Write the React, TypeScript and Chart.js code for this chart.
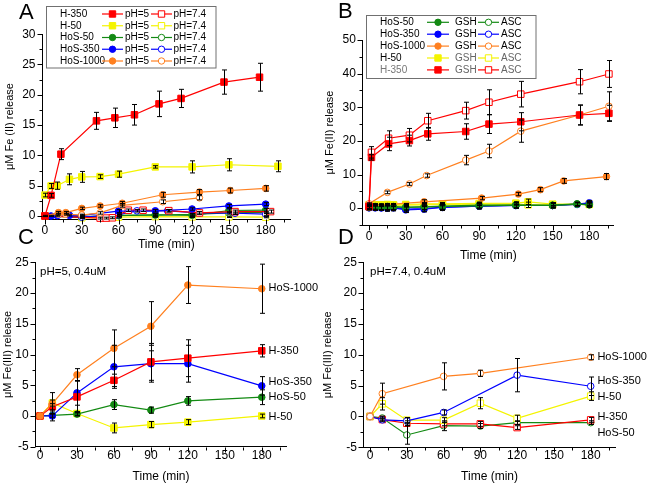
import React, { useEffect, useRef } from 'react';
import { Chart, registerables } from 'chart.js';

Chart.register(...registerables);

const FONT = 'Arial, "Liberation Sans", Helvetica, sans-serif';
Chart.defaults.font.family = FONT;
Chart.defaults.color = '#000';

const RED = '#ff0000';
const YELLOW = '#f4f400';
const GREEN = '#138a13';
const BLUE = '#0000ff';
const ORANGE = '#ff8020';

// ---------------- Panel A ----------------
const aTimeH350 = [0, 5, 13, 42, 57, 73, 93, 111, 146, 175];
const aH350pH5 = [0, 3.4, 10.2, 15.7, 16.2, 16.7, 18.5, 19.4, 22.1, 22.9];
const aH350pH5Err = [0, 0.3, 0.9, 1.4, 1.6, 1.7, 2.1, 1.5, 2.0, 2.3];
const aTimeH350b = [0, 45, 50, 55, 68, 80, 101, 126, 155, 184];
const aH350pH74 = [0, -0.35, -0.35, -0.3, 0.95, 0.95, 0.88, 0.5, 0.72, 0.72];
const aH350pH74Err = [0, 0.15, 0.15, 0.15, 0.2, 0.2, 0.2, 0.2, 0.25, 0.25];

const aTimeH50 = [0, 5, 10, 20, 30, 45, 60, 90, 120, 150, 190];
const aH50pH5 = [3.45, 4.95, 5.0, 6.05, 6.45, 6.5, 6.9, 8.1, 8.1, 8.45, 8.2];
const aH50pH5Err = [0.3, 0.4, 0.6, 0.9, 0.9, 0.3, 0.5, 0.2, 1.0, 1.0, 0.9];
const aTimeH50b = [0, 30, 60, 90, 120, 150, 180];
const aH50pH74 = [0, -0.3, -0.2, -0.1, -0.15, -0.15, -0.2];
const aH50pH74Err = [0, 0.1, 0.1, 0.1, 0.1, 0.1, 0.1];

const aTimeHoS1000 = [0, 11, 17, 30, 45, 63, 96, 126, 151, 180];
const aHoS1000pH5 = [0, 0.55, 0.55, 1.25, 1.65, 2.1, 3.5, 3.95, 4.2, 4.55];
const aHoS1000pH5Err = [0, 0.2, 0.2, 0.2, 0.2, 0.3, 0.4, 0.4, 0.4, 0.45];
const aTimeHoS1000b = [0, 11, 17, 30, 45, 63, 96, 126];
const aHoS1000pH74 = [0, 0.3, 0.3, 0.15, 0.5, 1.75, 2.35, 3.0];
const aHoS1000pH74Err = [0, 0.15, 0.15, 0.15, 0.2, 0.3, 0.3, 0.35];

const aTimeHoS350 = [0, 5, 10, 20, 30, 60, 90, 120, 150, 180];
const aHoS350pH5 = [0, 0, 0.05, 0.1, 0.1, 0.8, 0.85, 1.15, 1.65, 1.95];
const aHoS350pH5Err = [0.1, 0.1, 0.1, 0.1, 0.1, 0.25, 0.2, 0.2, 0.25, 0.25];
const aTimeHoS350b = [0, 30, 60, 75, 100, 126, 155, 180];
const aHoS350pH74 = [0, -0.2, 0.2, 0.85, 0.85, 0.5, 0.45, 0.3];
const aHoS350pH74Err = [0, 0.1, 0.15, 0.2, 0.2, 0.2, 0.2, 0.2];

const aTimeHoS50 = [0, 30, 60, 90, 120, 150, 180];
const aHoS50pH5 = [0, -0.1, 0.05, 0.2, 0.1, 0.9, 0.95];
const aHoS50pH5Err = [0, 0.15, 0.15, 0.2, 0.2, 0.3, 0.3];
const aHoS50pH74 = [0, -0.2, 0.1, 0.15, 0.25, 0.5, 0.6];
const aHoS50pH74Err = [0, 0.1, 0.15, 0.15, 0.15, 0.2, 0.2];

const aXTicks = [0, 30, 60, 90, 120, 150, 180];
const aYTicks = [0, 5, 10, 15, 20, 25, 30];
const aLegendNames = ['H-350', 'H-50', 'HoS-50', 'HoS-350', 'HoS-1000'];
const aLegendTexts = ['pH=5', 'pH=7.4'];

// ---------------- Panel B ----------------
const bTimeLow = [0, 5, 10, 15, 20, 30, 45, 60, 90, 120, 150, 170, 180];
const bHoS50GSH = [0.2, 0.3, 0.3, 0.3, 0.3, 0.2, 0.4, 0.5, 0.7, 0.9, 0.9, 1.3, 1.0];
const bHoS50ASC = [0.5, 0.5, 0.4, 0.5, 0.5, 0.3, 0.4, 0.6, 0.9, 0.9, 0.8, 1.2, 1.0];
const bHoS350GSH = [0.1, 0.2, 0.1, 0.1, 0.2, -0.3, -0.1, 0.3, 0.6, 0.8, 0.8, 1.1, 1.3];
const bHoS350ASC = [0.2, 0.1, 0.1, 0.0, 0.1, -0.5, -0.3, 0.2, 0.6, 0.8, 0.8, 1.2, 1.6];
const bLowErr = [0.6, 0.8, 0.8, 0.9, 0.9, 0.8, 0.8, 0.9, 0.8, 0.8, 0.7, 0.5, 0.7];
const bTimeH50 = [0, 5, 10, 15, 20, 30, 45, 60, 90, 120, 130, 150, 180];
const bH50GSH = [1.0, 1.0, 1.0, 1.1, 1.0, 1.1, 1.3, 1.3, 1.4, 1.5, 1.9, 1.2, 1.2];
const bH50ASC = [0.8, 0.9, 0.8, 0.9, 0.8, 0.9, 1.0, 1.1, 1.2, 1.3, 1.0, 1.0, 1.1];
const bH50Err = [0.3, 0.3, 0.3, 0.3, 0.3, 0.3, 0.4, 0.4, 0.4, 0.4, 0.8, 0.4, 0.4];
const bTimeHoS1000GSH = [0, 45, 92, 122, 140, 159, 194];
const bHoS1000GSH = [0.7, 1.9, 3.0, 4.2, 5.5, 8.1, 9.4];
const bHoS1000GSHErr = [0.3, 0.6, 0.5, 0.5, 0.6, 0.7, 0.9];
const bTimeHoS1000ASC = [0, 15, 33, 47, 79, 98, 124, 172, 196];
const bHoS1000ASC = [1.3, 4.7, 7.2, 9.7, 14.3, 17.0, 22.9, 27.7, 30.3];
const bHoS1000ASCErr = [0.3, 0.4, 0.4, 0.5, 1.4, 2.0, 3.3, 3.0, 4.3];
const bTimeH350 = [0, 2, 16, 33, 48, 79, 98, 124, 172, 196];
const bH350GSH = [0.5, 15.1, 19.1, 20.1, 22.1, 22.8, 25.0, 25.7, 27.7, 28.2];
const bH350GSHErr = [0, 0.8, 2.0, 1.6, 1.9, 2.3, 2.8, 2.7, 2.9, 2.4];
const bH350ASC = [0.5, 16.6, 20.8, 21.7, 26.0, 29.0, 31.5, 33.9, 37.6, 39.9];
const bH350ASCErr = [0, 1.7, 2.2, 2.0, 2.2, 2.5, 3.7, 3.8, 3.6, 4.0];

const bXTicks = [0, 30, 60, 90, 120, 150, 180];
const bYTicks = [0, 10, 20, 30, 40, 50];
const bLegendNames = ['HoS-50', 'HoS-350', 'HoS-1000', 'H-50', 'H-350'];
const bLegendTexts = ['GSH', 'ASC'];

// ---------------- Panel C ----------------
const cTime = [0, 10, 30, 60, 90, 120, 180];
const cHoS1000 = [0, 2.0, 6.7, 11.0, 14.6, 21.3, 20.7];
const cHoS1000Err = [0, 1.8, 1.0, 3.0, 4.0, 3.0, 4.0];
const cH350 = [0, 1.5, 3.1, 5.8, 8.8, 9.4, 10.6];
const cH350Err = [0, 0.5, 2.6, 1.0, 3.0, 3.0, 1.0];
const cHoS350 = [0, 0, 3.75, 8.0, 8.5, 8.5, 4.9];
const cHoS350Err = [0, 0.8, 2.0, 3.5, 3.0, 3.0, 1.5];
const cHoS50 = [0, 0.1, 0.3, 1.85, 0.95, 2.45, 3.05];
const cHoS50Err = [0, 0.3, 0.3, 0.8, 0.5, 0.7, 1.2];
const cH50 = [0, 2.1, 0.4, -1.95, -1.4, -1.0, 0.0];
const cH50Err = [0, 0.5, 0.3, 0.8, 0.5, 0.4, 0.3];
const cSideLabels = ['HoS-1000', 'H-350', 'HoS-350', 'HoS-50', 'H-50'];
const cSideLabelY = [20.9, 10.6, 5.6, 3.1, -0.1];
const cNote = 'pH=5, 0.4uM';

// ---------------- Panel D ----------------
const dTimeHoS1000 = [0, 10, 60, 90, 180];
const dHoS1000 = [0, 3.7, 6.5, 7.0, 9.6];
const dHoS1000Err = [0, 1.7, 2.2, 0.5, 0.4];
const dTimeHoS350 = [0, 10, 30, 60, 120, 180];
const dHoS350 = [0, -0.55, -0.7, 0.65, 6.7, 4.9];
const dHoS350Err = [0, 0.3, 0.5, 0.4, 2.7, 1.5];
const dTime = [0, 10, 30, 60, 90, 120, 180];
const dH50 = [0, 2.05, -0.6, -0.6, 2.15, -0.3, 3.3];
const dH50Err = [0, 1.0, 0.4, 0.4, 0.9, 0.5, 0.7];
const dH350 = [0, -0.5, -1.1, -1.2, -1.2, -1.8, -0.55];
const dH350Err = [0, 0.2, 0.4, 0.3, 0.4, 0.3, 0.4];
const dHoS50 = [0, -0.25, -3.0, -1.5, -1.55, -1.0, -1.0];
const dHoS50Err = [0, 0.3, 1.5, 0.8, 0.4, 0.3, 0.3];
const dSideLabels = ['HoS-1000', 'HoS-350', 'H-50', 'H-350', 'HoS-50'];
const dSideLabelY = [9.6, 5.8, 3.1, -0.1, -2.6];
const dNote = 'pH=7.4, 0.4uM';

const cdXTicks = [0, 30, 60, 90, 120, 150, 180];
const cdYTicks = [-5, 0, 5, 10, 15, 20, 25];

// ---------------- helpers ----------------
type Shape = 'circle' | 'rect';
type Series = { t: number[]; v: number[]; e: number[]; color: string; shape: Shape; open: boolean };

const S = (t: number[], v: number[], e: number[], color: string, shape: Shape, open: boolean): Series => ({ t, v, e, color, shape, open });

function toDataset(s: Series) {
  return {
    data: s.t.map((x, i) => ({ x, y: s.v[i] })),
    errors: s.e,
    borderColor: s.color,
    backgroundColor: s.open ? '#ffffff' : s.color,
    pointBackgroundColor: s.open ? '#ffffff' : s.color,
    pointBorderColor: s.color,
    pointStyle: s.shape,
    pointRadius: s.shape === 'rect' ? 4.6 : 3.3,
    pointBorderWidth: 1,
    borderWidth: 1.2,
    tension: 0,
    fill: false,
    clip: false,
  };
}

function txt(ctx: CanvasRenderingContext2D, s: string, x: number, y: number, size: number, align: CanvasTextAlign = 'left', color = '#000') {
  ctx.font = `${size}px ${FONT}`;
  ctx.fillStyle = color;
  ctx.textAlign = align;
  ctx.textBaseline = 'middle';
  ctx.fillText(s, x, y);
}

function marker(ctx: CanvasRenderingContext2D, shape: Shape, x: number, y: number, color: string, open: boolean) {
  ctx.beginPath();
  if (shape === 'circle') ctx.arc(x, y, 3.2, 0, Math.PI * 2);
  else ctx.rect(x - 3.2, y - 3.2, 6.4, 6.4);
  ctx.fillStyle = open ? '#fff' : color;
  ctx.fill();
  ctx.strokeStyle = color;
  ctx.lineWidth = 1;
  ctx.stroke();
}

function legendLine(ctx: CanvasRenderingContext2D, x1: number, x2: number, y: number, color: string, shape: Shape, open: boolean) {
  ctx.beginPath();
  ctx.moveTo(x1, y);
  ctx.lineTo(x2, y);
  ctx.strokeStyle = color;
  ctx.lineWidth = 1.2;
  ctx.stroke();
  marker(ctx, shape, (x1 + x2) / 2, y, color, open);
}

const errorBars = {
  id: 'errorBars',
  afterDatasetsDraw(chart: any) {
    const ctx = chart.ctx;
    const ys = chart.scales.y;
    ctx.save();
    ctx.strokeStyle = '#000';
    ctx.lineWidth = 1;
    chart.data.datasets.forEach((ds: any, di: number) => {
      const meta = chart.getDatasetMeta(di);
      const errs: number[] = ds.errors || [];
      meta.data.forEach((pt: any, i: number) => {
        const e = errs[i];
        if (!e) return;
        const v = ds.data[i].y;
        const x = Math.round(pt.x) + 0.5;
        const top = ys.getPixelForValue(v + e);
        const bot = ys.getPixelForValue(v - e);
        ctx.beginPath();
        ctx.moveTo(x, top);
        ctx.lineTo(x, bot);
        ctx.moveTo(x - 2.5, top);
        ctx.lineTo(x + 2.5, top);
        ctx.moveTo(x - 2.5, bot);
        ctx.lineTo(x + 2.5, bot);
        ctx.stroke();
      });
    });
    ctx.restore();
  },
};

function minorOf(major: number[], lo: number, hi: number) {
  const step = major[1] - major[0];
  const out: number[] = [];
  const all = [major[0] - step, ...major];
  all.forEach((m) => {
    const v = m + step / 2;
    if (v >= lo && v <= hi) out.push(v);
  });
  return out;
}

const axisTicks = {
  id: 'axisTicks',
  afterDraw(chart: any) {
    const ctx = chart.ctx;
    const xs = chart.scales.x;
    const ys = chart.scales.y;
    const ca = chart.chartArea;
    const p = chart.options.plugins.axisTicks;
    ctx.save();
    ctx.strokeStyle = '#000';
    ctx.lineWidth = 1;
    ctx.beginPath();
    const xb = Math.round(ca.bottom) + 0.5;
    const yl = Math.round(ca.left) - 0.5;
    p.xMajor.forEach((v: number) => {
      const px = Math.round(xs.getPixelForValue(v)) + 0.5;
      ctx.moveTo(px, xb); ctx.lineTo(px, xb + 5);
    });
    minorOf(p.xMajor, xs.min, xs.max).forEach((v: number) => {
      const px = Math.round(xs.getPixelForValue(v)) + 0.5;
      ctx.moveTo(px, xb); ctx.lineTo(px, xb + 3);
    });
    p.yMajor.forEach((v: number) => {
      const py = Math.round(ys.getPixelForValue(v)) + 0.5;
      ctx.moveTo(yl, py); ctx.lineTo(yl - 5, py);
    });
    minorOf(p.yMajor, ys.min, ys.max).forEach((v: number) => {
      const py = Math.round(ys.getPixelForValue(v)) + 0.5;
      ctx.moveTo(yl, py); ctx.lineTo(yl - 3, py);
    });
    ctx.stroke();
    ctx.restore();
  },
};

type Panel = {
  series: Series[];
  xMin: number; xMax: number; yMin: number; yMax: number;
  xTicks: number[]; yTicks: number[];
  yTitle: string;
  pad: { left: number; top: number; right: number; bottom: number };
  yAxisW: number; xAxisH: number;
  xLabelPad: number; yLabelPad: number;
  extra: (ctx: CanvasRenderingContext2D, chart: any) => void;
};

function makeChart(canvas: HTMLCanvasElement, p: Panel) {
  return new Chart(canvas, {
    type: 'line',
    data: { datasets: p.series.map(toDataset) as any },
    options: {
      animation: false,
      responsive: false,
      devicePixelRatio: 1,
      events: [],
      layout: { padding: p.pad, autoPadding: false } as any,
      plugins: {
        legend: { display: false },
        tooltip: { enabled: false },
        axisTicks: { xMajor: p.xTicks, yMajor: p.yTicks },
      } as any,
      scales: {
        x: {
          type: 'linear',
          min: p.xMin,
          max: p.xMax,
          afterBuildTicks: (s: any) => { s.ticks = p.xTicks.map((value) => ({ value })); },
          afterFit: (s: any) => { s.height = p.xAxisH; },
          ticks: { font: { size: 12 }, color: '#000', padding: p.xLabelPad, autoSkip: false, maxRotation: 0, callback: (v: any) => String(v) },
          grid: { display: false, drawTicks: false },
          border: { display: true, color: '#000', width: 1 },
          title: { display: true, text: 'Time (min)', font: { size: 12 }, color: '#000', padding: 0 },
        },
        y: {
          type: 'linear',
          min: p.yMin,
          max: p.yMax,
          afterBuildTicks: (s: any) => { s.ticks = p.yTicks.map((value) => ({ value })); },
          afterFit: (s: any) => { s.width = p.yAxisW; },
          ticks: { font: { size: 12 }, color: '#000', padding: p.yLabelPad, autoSkip: false, callback: (v: any) => String(v) },
          grid: { display: false, drawTicks: false },
          border: { display: true, color: '#000', width: 1 },
          title: { display: true, text: p.yTitle, font: { size: 11 }, color: '#000', padding: 0 },
        },
      } as any,
    },
    plugins: [
      errorBars,
      axisTicks,
      { id: 'extra', afterDraw: (chart: any) => { const ctx = chart.ctx; ctx.save(); p.extra(ctx, chart); ctx.restore(); } },
    ],
  } as any);
}

// ---------------- panels ----------------
const panelA: Panel = {
  series: [
    S(aTimeH350, aH350pH5, aH350pH5Err, RED, 'rect', false),
    S(aTimeH50, aH50pH5, aH50pH5Err, YELLOW, 'rect', false),
    S(aTimeHoS1000, aHoS1000pH5, aHoS1000pH5Err, ORANGE, 'circle', false),
    S(aTimeHoS1000b, aHoS1000pH74, aHoS1000pH74Err, ORANGE, 'circle', true),
    S(aTimeHoS350, aHoS350pH5, aHoS350pH5Err, BLUE, 'circle', false),
    S(aTimeH350b, aH350pH74, aH350pH74Err, RED, 'rect', true),
    S(aTimeHoS350b, aHoS350pH74, aHoS350pH74Err, BLUE, 'circle', true),
    S(aTimeHoS50, aHoS50pH5, aHoS50pH5Err, GREEN, 'circle', false),
    S(aTimeHoS50, aHoS50pH74, aHoS50pH74Err, GREEN, 'circle', true),
    S(aTimeH50b, aH50pH74, aH50pH74Err, YELLOW, 'rect', true),
  ],
  xMin: -2, xMax: 200, yMin: -0.5, yMax: 30,
  xTicks: aXTicks, yTicks: aYTicks,
  yTitle: 'μM Fe (II) release',
  pad: { left: 3.4, top: 34.2, right: 359.8, bottom: 231.8 },
  yAxisW: 39.1, xAxisH: 33.2, xLabelPad: 4, yLabelPad: 7,
  extra: (ctx) => {
    ctx.fillStyle = '#fff';
    ctx.fillRect(46.5, 6.5, 169.5, 61.5);
    ctx.strokeStyle = '#707070';
    ctx.lineWidth = 1;
    ctx.strokeRect(46.5, 6.5, 169.5, 61.5);
    const colors = [RED, YELLOW, GREEN, BLUE, ORANGE];
    const shapes: Shape[] = ['rect', 'rect', 'circle', 'circle', 'circle'];
    aLegendNames.forEach((n, i) => {
      const y = 14 + i * 11.75;
      txt(ctx, n, 60, y, 10);
      legendLine(ctx, 102, 123, y, colors[i], shapes[i], false);
      txt(ctx, aLegendTexts[0], 125, y, 10);
      legendLine(ctx, 151, 172, y, colors[i], shapes[i], true);
      txt(ctx, aLegendTexts[1], 173.5, y, 10);
    });
    txt(ctx, 'A', 19, 13, 22);
  },
};

const panelB: Panel = {
  series: [
    S(bTimeH350, bH350GSH, bH350GSHErr, RED, 'rect', false),
    S(bTimeH350, bH350ASC, bH350ASCErr, RED, 'rect', true),
    S(bTimeHoS1000ASC, bHoS1000ASC, bHoS1000ASCErr, ORANGE, 'circle', true),
    S(bTimeHoS1000GSH, bHoS1000GSH, bHoS1000GSHErr, ORANGE, 'circle', false),
    S(bTimeLow, bHoS50GSH, bLowErr, GREEN, 'circle', false),
    S(bTimeLow, bHoS50ASC, bLowErr, GREEN, 'circle', true),
    S(bTimeLow, bHoS350GSH, bLowErr, BLUE, 'circle', false),
    S(bTimeLow, bHoS350ASC, bLowErr, BLUE, 'circle', true),
    S(bTimeH50, bH50GSH, bH50Err, YELLOW, 'rect', false),
    S(bTimeH50, bH50ASC, bH50Err, YELLOW, 'rect', true),
  ],
  xMin: -5, xMax: 200, yMin: -5, yMax: 50,
  xTicks: bXTicks, yTicks: bYTicks,
  yTitle: 'μM Fe(II) release',
  pad: { left: 323.4, top: 40, right: 36.2, bottom: 220.8 },
  yAxisW: 39.5, xAxisH: 38.2, xLabelPad: 4.5, yLabelPad: 7,
  extra: (ctx) => {
    ctx.fillStyle = '#fff';
    ctx.fillRect(366.5, 15.5, 169.5, 63);
    ctx.strokeStyle = '#707070';
    ctx.lineWidth = 1;
    ctx.strokeRect(366.5, 15.5, 169.5, 63);
    const colors = [GREEN, BLUE, ORANGE, YELLOW, RED];
    const shapes: Shape[] = ['circle', 'circle', 'circle', 'rect', 'rect'];
    bLegendNames.forEach((n, i) => {
      const y = 22.3 + i * 11.9;
      const c = i === 4 ? '#777' : '#000';
      const c2 = i >= 3 ? '#666' : '#000';
      txt(ctx, n, 380, y, 10, 'left', c);
      legendLine(ctx, 427, 449, y, colors[i], shapes[i], false);
      txt(ctx, bLegendTexts[0], 455, y, 10, 'left', c2);
      legendLine(ctx, 478, 499, y, colors[i], shapes[i], true);
      txt(ctx, bLegendTexts[1], 501, y, 10, 'left', c2);
    });
    txt(ctx, 'B', 338, 12, 22);
  },
};

function sideLabels(ctx: CanvasRenderingContext2D, chart: any, names: string[], ys: number[], note: string, letter: string, letterX: number) {
  const xs = chart.scales.x;
  const yS = chart.scales.y;
  names.forEach((n, i) => {
    txt(ctx, n, xs.getPixelForValue(185.5), yS.getPixelForValue(ys[i]), 11);
  });
  txt(ctx, note, xs.getPixelForValue(0), yS.getPixelForValue(23.5), 11.5);
  txt(ctx, letter, letterX, 238, 22);
}

const panelC: Panel = {
  series: [
    S(cTime, cHoS1000, cHoS1000Err, ORANGE, 'circle', false),
    S(cTime, cH350, cH350Err, RED, 'rect', false),
    S(cTime, cHoS350, cHoS350Err, BLUE, 'circle', false),
    S(cTime, cHoS50, cHoS50Err, GREEN, 'circle', false),
    S(cTime, cH50, cH50Err, YELLOW, 'rect', false),
  ],
  xMin: -3.5, xMax: 200, yMin: -5, yMax: 25,
  xTicks: cdXTicks, yTicks: cdYTicks,
  yTitle: 'μM Fe(III) release',
  pad: { left: 1.4, top: 262.3, right: 363.6, bottom: 0 },
  yAxisW: 34.3, xAxisH: 37.3, xLabelPad: 1.5, yLabelPad: 7,
  extra: (ctx, chart) => sideLabels(ctx, chart, cSideLabels, cSideLabelY, cNote, 'C', 18),
};

const panelD: Panel = {
  series: [
    S(dTimeHoS1000, dHoS1000, dHoS1000Err, ORANGE, 'circle', true),
    S(dTimeHoS350, dHoS350, dHoS350Err, BLUE, 'circle', true),
    S(dTime, dH50, dH50Err, YELLOW, 'rect', true),
    S(dTime, dH350, dH350Err, RED, 'rect', true),
    S(dTime, dHoS50, dHoS50Err, GREEN, 'circle', true),
  ],
  xMin: -5, xMax: 200, yMin: -5, yMax: 25,
  xTicks: cdXTicks, yTicks: cdYTicks,
  yTitle: 'μM Fe(III) release',
  pad: { left: 321.4, top: 262.3, right: 34.8, bottom: 0 },
  yAxisW: 42.5, xAxisH: 36.7, xLabelPad: 1.5, yLabelPad: 7,
  extra: (ctx, chart) => sideLabels(ctx, chart, dSideLabels, dSideLabelY, dNote, 'D', 338),
};

const panels = [panelA, panelB, panelC, panelD];

export default function App() {
  const refs = useRef<(HTMLCanvasElement | null)[]>([]);
  useEffect(() => {
    const charts = panels.map((p, i) => makeChart(refs.current[i] as HTMLCanvasElement, p));
    return () => charts.forEach((c) => c.destroy());
  }, []);
  return (
    <div style={{ position: 'absolute', left: 0, top: 0, width: 650, height: 484, background: '#fff', overflow: 'hidden' }}>
      {panels.map((_, i) => (
        <canvas
          key={i}
          ref={(el) => { refs.current[i] = el; }}
          width={650}
          height={484}
          style={{ position: 'absolute', left: 0, top: 0, width: 650, height: 484 }}
        />
      ))}
    </div>
  );
}
